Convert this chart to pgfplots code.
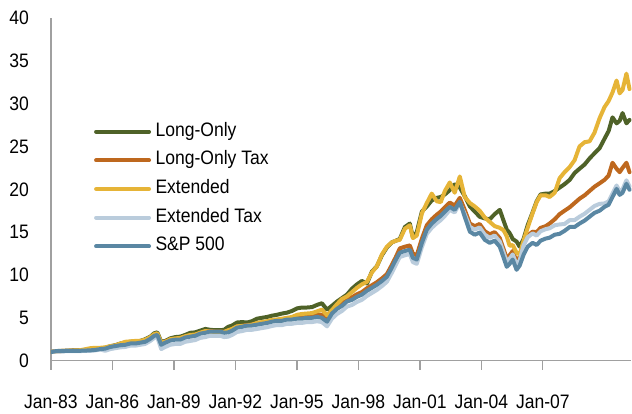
\documentclass[border=0pt]{standalone}
\usepackage{fontspec}
\setmainfont{Liberation Sans}[FakeStretch=0.9]
\usepackage{pgfplots}
\pgfplotsset{compat=1.18}
\usepackage{pgfplotstable}
\definecolor{cLO}{RGB}{79,98,40}
\definecolor{cLOT}{RGB}{190,104,30}
\definecolor{cEXT}{RGB}{230,180,55}
\definecolor{cEXTT}{RGB}{186,204,220}
\definecolor{cSP}{RGB}{90,135,163}
\definecolor{axgray}{RGB}{160,160,160}
\pgfplotstableread{
yr SP LO EXT EXTT LOT
1983.00 1.00 1.00 1.00 1.00 1.00
1983.22 1.10 1.12 1.10 1.08 1.10
1983.46 1.10 1.13 1.12 1.08 1.12
1983.95 1.15 1.18 1.16 1.12 1.16
1984.44 1.15 1.20 1.22 1.12 1.18
1984.92 1.20 1.30 1.45 1.15 1.25
1985.17 1.25 1.35 1.50 1.20 1.30
1985.41 1.35 1.42 1.50 1.30 1.40
1985.65 1.40 1.50 1.55 1.15 1.45
1985.90 1.60 1.68 1.70 1.35 1.65
1986.14 1.70 1.80 1.78 1.45 1.75
1986.39 1.80 2.00 2.00 1.55 1.85
1986.63 1.85 2.10 2.20 1.60 1.90
1986.87 2.00 2.20 2.25 1.75 2.05
1987.12 2.00 2.25 2.30 1.75 2.05
1987.36 2.10 2.30 2.30 1.85 2.15
1987.60 2.20 2.50 2.45 1.95 2.25
1987.85 2.55 2.80 2.75 2.30 2.60
1988.04 2.90 3.20 3.10 2.65 2.95
1988.19 3.00 3.30 3.20 2.75 3.05
1988.38 1.85 2.20 2.10 1.35 2.00
1988.58 2.10 2.30 2.20 1.60 2.25
1988.82 2.35 2.60 2.50 1.85 2.45
1989.07 2.45 2.75 2.60 1.95 2.55
1989.31 2.45 2.80 2.65 1.95 2.60
1989.55 2.70 3.00 2.85 2.20 2.80
1989.80 2.80 3.25 3.00 2.30 2.95
1990.04 2.90 3.30 3.05 2.40 3.00
1990.28 3.15 3.50 3.25 2.65 3.25
1990.53 3.25 3.70 3.45 2.75 3.40
1990.77 3.40 3.60 3.40 2.90 3.45
1991.01 3.40 3.55 3.35 2.90 3.40
1991.26 3.40 3.55 3.35 2.90 3.40
1991.45 3.25 3.60 3.35 2.75 3.35
1991.65 3.30 3.95 3.55 2.80 3.50
1991.84 3.50 4.10 3.70 3.00 3.65
1992.08 3.85 4.45 4.00 3.35 4.00
1992.33 3.95 4.50 4.05 3.45 4.05
1992.57 4.10 4.45 4.10 3.60 4.15
1992.81 4.10 4.60 4.20 3.60 4.20
1993.06 4.20 4.90 4.40 3.70 4.35
1993.30 4.30 5.00 4.50 3.80 4.45
1993.55 4.40 5.10 4.60 3.90 4.55
1993.79 4.55 5.25 4.75 4.05 4.70
1994.03 4.65 5.35 4.80 4.15 4.75
1994.28 4.65 5.50 4.90 4.15 4.80
1994.52 4.80 5.60 5.00 4.30 4.95
1994.76 4.80 5.80 5.10 4.30 5.00
1995.01 4.90 6.10 5.35 4.40 5.15
1995.25 4.90 6.20 5.45 4.40 5.20
1995.49 5.00 6.20 5.50 4.50 5.25
1995.74 5.00 6.25 5.55 4.50 5.30
1995.98 5.10 6.50 5.75 4.60 5.40
1996.22 5.00 6.70 5.95 4.50 5.35
1996.47 4.55 5.95 5.30 4.00 4.85
1996.71 5.50 6.40 5.90 4.90 5.80
1996.96 6.05 6.90 6.60 5.45 6.35
1997.20 6.40 7.30 7.20 5.80 6.70
1997.44 6.90 7.70 7.50 6.30 7.20
1997.69 7.10 8.40 8.00 6.50 7.40
1997.93 7.45 8.90 8.50 6.85 7.75
1998.17 7.70 9.30 8.90 7.10 8.00
1998.42 8.15 9.00 9.20 7.55 8.45
1998.66 8.50 10.40 10.30 7.90 8.80
1998.90 8.85 11.00 11.00 8.25 9.15
1999.15 9.30 12.30 12.40 8.70 9.60
1999.39 9.80 13.20 13.30 9.20 10.10
1999.63 10.85 13.80 13.80 10.25 11.15
1999.83 11.80 14.00 14.00 11.20 12.10
2000.02 12.60 14.20 14.10 12.10 13.10
2000.27 12.80 15.60 15.40 12.30 13.30
2000.51 12.95 16.00 15.80 12.45 13.45
2000.66 12.00 14.40 14.30 11.50 12.50
2000.85 11.80 15.00 14.60 11.30 12.30
2001.10 13.75 17.40 17.20 13.25 14.25
2001.34 15.30 18.00 18.40 14.80 15.80
2001.58 16.00 18.70 19.50 15.50 16.50
2001.83 16.55 19.00 18.60 16.05 17.05
2002.02 16.90 19.10 18.50 16.40 17.40
2002.22 17.40 19.40 19.80 16.90 17.90
2002.46 17.95 19.90 20.80 17.60 18.45
2002.70 17.60 20.60 19.60 17.30 18.10
2002.95 18.55 20.20 21.50 18.40 19.00
2003.19 16.80 19.20 19.10 17.10 17.60
2003.44 15.05 18.00 18.40 15.60 16.00
2003.68 14.70 17.40 18.00 15.30 15.70
2003.92 14.95 16.80 17.50 15.55 15.95
2004.17 14.10 16.60 16.70 14.70 15.10
2004.41 13.75 16.50 16.20 14.35 14.75
2004.65 14.00 17.10 15.70 14.60 15.00
2004.90 13.30 17.60 15.50 13.90 14.30
2005.09 12.00 16.30 15.20 12.60 13.00
2005.24 10.95 15.30 14.50 11.55 11.95
2005.38 11.30 14.90 13.40 11.90 12.30
2005.53 11.80 14.20 13.50 12.40 12.80
2005.72 10.60 13.90 12.60 11.20 11.60
2005.87 11.10 13.30 12.40 11.70 12.10
2006.06 12.35 14.20 14.00 13.45 13.65
2006.26 13.30 15.80 15.50 14.40 14.60
2006.50 13.75 17.30 17.20 14.85 15.05
2006.70 13.50 18.60 18.50 14.60 15.00
2006.89 14.00 19.40 19.30 15.10 15.50
2007.14 14.25 19.50 19.30 15.35 15.70
2007.33 14.35 19.50 19.10 15.45 16.00
2007.58 14.70 19.80 19.60 15.80 16.50
2007.82 14.80 20.20 21.30 15.90 17.10
2008.06 15.15 20.60 22.00 15.95 17.50
2008.31 15.60 21.10 22.60 16.40 17.90
2008.55 15.60 21.90 23.40 16.40 18.40
2008.79 16.00 22.40 25.00 16.80 18.90
2009.04 16.35 22.90 25.50 17.15 19.30
2009.28 16.80 23.60 25.60 17.60 19.80
2009.52 17.25 24.20 26.60 18.05 20.30
2009.77 17.50 24.80 28.30 18.30 20.70
2010.01 17.95 25.90 29.60 18.35 21.10
2010.21 18.20 26.80 30.30 18.60 21.60
2010.40 19.10 28.40 31.30 19.50 23.10
2010.60 20.05 27.70 32.70 20.45 22.40
2010.75 19.35 28.00 31.20 19.75 22.00
2010.89 19.60 28.90 31.60 20.00 22.50
2011.08 20.65 27.70 33.50 21.05 23.10
2011.23 19.95 28.10 31.70 20.35 22.00
}\data

\begin{document}
\begin{tikzpicture}
\begin{axis}[
  name=ax, at={(0,0)}, anchor=south west,
  scale only axis, width=581pt, height=343pt,
  xmin=1983, xmax=2011.32, ymin=0, ymax=40,
  axis lines*=left,
  axis line style={draw=axgray, line width=1.3pt},
  xtick={1983,1986,1989,1992,1995,1998,2001,2004,2007},
  xticklabels={Jan-83,Jan-86,Jan-89,Jan-92,Jan-95,Jan-98,Jan-01,Jan-04,Jan-07},
  ytick={0,5,...,40},
  tick align=outside, major tick length=9pt,
  xtick style={draw=axgray, line width=1.3pt},
  ytick style={draw=none},
  tick label style={font=\fontsize{19.5}{19.5}\selectfont, inner sep=0pt},
  /pgf/number format/assume math mode=true,
  yticklabel style={anchor=east, xshift=-13pt},
  xticklabel style={anchor=north, yshift=-25pt},
  legend cell align=left,
  legend image code/.code={\draw[#1, line width=4pt] (0pt,0pt) -- (53pt,0pt);},
  legend style={draw=none, fill=none, at={(0.074,0.695)}, anchor=north west,
    inner sep=0pt, row sep=10.7pt, column sep=4.5pt,
    nodes={inner sep=0pt, text height=13.5pt, text depth=4.5pt, font=\fontsize{19.5}{19.5}\selectfont}},
  every axis plot/.append style={line width=4pt, line join=round, line cap=round},
]
\addplot[cLO] table[x=yr, y=LO] {\data};
\addlegendentry{Long-Only}
\addplot[cLOT] table[x=yr, y=LOT] {\data};
\addlegendentry{Long-Only Tax}
\addplot[cEXT] table[x=yr, y=EXT] {\data};
\addlegendentry{Extended}
\addplot[cEXTT] table[x=yr, y=EXTT] {\data};
\addlegendentry{Extended Tax}
\addplot[cSP] table[x=yr, y=SP] {\data};
\addlegendentry{S\&P 500}
\end{axis}
\path ([shift={(-51pt,-53pt)}]ax.south west) rectangle ([shift={(0pt,18pt)}]ax.north east);
\end{tikzpicture}
\end{document}
